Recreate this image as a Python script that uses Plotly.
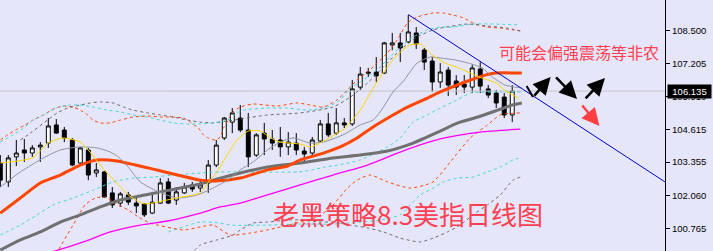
import plotly.graph_objects as go

# ---------------- candles (daily, oldest -> newest) ----------------
candle_idx = list(range(65))
opens = [103.32,102.58,103.56,103.83,103.71,103.95,104.10,104.81,104.61,104.22,
         103.32,103.83,102.93,102.97,102.15,101.75,102.07,101.75,101.72,101.36,
         101.75,102.58,101.87,102.15,102.46,102.34,102.54,103.24,104.30,104.92,
         105.08,104.61,103.63,104.49,104.26,104.22,103.95,104.10,103.79,103.71,
         104.18,104.85,104.49,104.89,104.85,106.29,106.88,106.88,106.84,107.94,
         108.02,108.06,108.41,107.74,107.31,106.49,106.96,106.53,106.41,106.29,
         107.00,106.22,106.06,105.90,105.20]
highs = [103.63,103.63,104.22,104.26,104.02,104.14,105.08,105.04,104.73,104.30,
         103.95,103.91,103.32,103.01,102.38,102.19,102.19,101.99,101.75,102.19,
         102.73,102.73,102.38,102.54,102.58,102.65,103.44,104.22,105.12,105.47,
         105.59,105.28,104.49,104.89,104.61,104.73,104.53,104.49,103.95,104.34,
         105.00,105.28,105.47,105.08,106.57,107.08,107.04,107.47,108.06,108.41,
         108.41,109.11,108.64,107.82,107.47,107.23,107.08,106.76,106.76,107.16,
         107.27,106.37,106.18,106.06,106.37]
lows = [102.38,102.38,103.20,103.36,103.56,103.36,103.91,104.46,104.14,103.20,
        103.28,102.65,102.77,101.95,101.56,101.60,101.68,101.36,101.21,101.32,
        101.72,101.72,101.68,102.11,102.19,102.19,102.15,103.16,104.22,104.49,
        104.53,103.16,103.56,103.63,103.83,103.56,103.63,103.63,103.36,103.63,
        104.14,104.34,104.42,104.69,104.77,106.18,106.69,106.49,106.80,107.74,
        107.27,108.02,107.78,106.96,106.10,106.26,105.94,105.98,106.06,106.06,
        106.06,105.86,105.47,105.08,104.92]
closes = [102.65,103.52,103.71,103.71,103.91,104.02,104.77,104.49,104.30,103.24,
          103.91,102.85,103.05,101.99,101.68,102.11,101.79,101.64,101.29,101.79,
          102.54,101.75,102.19,102.38,102.30,102.46,103.24,104.02,105.08,105.28,
          104.61,103.56,104.42,104.26,104.10,103.95,104.14,103.83,103.67,104.22,
          104.85,104.42,104.89,104.81,106.22,106.80,106.84,106.73,108.02,108.02,
          107.82,108.45,107.98,107.27,106.49,106.88,106.37,106.29,106.29,107.04,
          106.33,105.98,105.67,105.20,106.135]
last_price = 106.135

# ---------------- moving averages ----------------
ma5_x = [0,4,6,7.8,10,11,12,13,14.8,16,18,19.6,22,25,26.2,27,28.5,29.6,31,32.5,33.8,35,37.5,38.8,
         40.4,42,43,45,47,48.4,50,51.2,52.5,54,55.6,57,58.5,59.8,62,63,64.8]
ma5_y = [103.32,103.52,104.10,104.30,104.14,103.83,103.44,103.05,102.46,102.07,101.72,101.79,101.95,
         102.15,102.65,102.93,103.71,104.22,104.57,104.57,104.30,104.14,104.06,103.95,104.18,104.46,
         104.65,105.39,106.45,107.08,107.66,107.94,107.98,107.55,107.23,107.08,106.88,106.69,106.45,
         106.18,105.86]
ma10_x = [0,2.5,5.4,7.5,10,12.1,13.75,14.75,16,17.5,19.6,22.1,24.6,26.6,28.4,30,31.6,33.4,35,36.6,
          38.75,40.4,41.9,43.1,45,46.6,47.5,49.1,50.4,52.1,53.75,55,56.9,58.5,60.25,61.5,63.1,64.4,65.2]
ma10_y = [102.38,102.97,103.52,103.83,103.95,103.91,103.75,103.56,103.16,102.58,102.22,101.95,102.07,
          102.34,102.65,103.05,103.36,103.83,104.14,104.30,104.10,104.14,104.30,104.46,104.81,105.00,
          105.32,106.10,106.53,107.23,107.47,107.43,107.35,107.23,107.04,106.69,106.37,106.29,106.26]
ma20_x = [0,2.5,5,7.5,10,12.1,14.6,16.9,19,21.6,25,26.9,30,33.4,35.9,37.5,40,42.5,44.6,46.6,49.1,
          50.9,53.4,55,58.1,60.6,61.9,65.2]
ma20_y = [101.36,101.95,102.54,102.85,103.24,103.44,103.40,103.24,103.09,102.89,102.65,102.62,102.73,
          103.05,103.20,103.44,103.67,103.95,104.30,104.73,105.20,105.51,105.86,106.10,106.49,106.76,
          106.84,106.84]
ma60_x = [0,2.5,5,7.5,10,12.5,15,18.1,20,22.5,25,27.5,30,33.4,37.5,41.6,45,48.4,51.6,55,57.2,59.7,
          62.2,64,65.2]
ma60_y = [99.91,100.31,100.62,101.01,101.29,101.60,101.87,102.07,102.19,102.34,102.50,102.73,102.93,
          103.16,103.32,103.52,103.63,103.79,104.10,104.57,104.89,105.12,105.39,105.59,105.67]
ma120_x = [0,7.2,10.4,13.75,17.5,20.9,25,27.5,30,33.4,37.5,41.6,45.9,50,55,60,65]
ma120_y = [99.33,99.91,100.23,100.62,100.89,101.05,101.36,101.60,101.75,102.07,102.46,102.85,103.24,
           103.75,104.26,104.53,104.65]

# ---------------- band lines (dashed) ----------------
band_orange_up_x = [0,0.9,1.9,3.1,4.1,5.4,6.6,7.9,9.1,10,10.9,11.6,12.5,13.75,15,16.6,18.4,20,21.25,
                    22.9,23.75,24.75,25.4,26,26.9,27.5,27.9,28.5,29.1,30,31.6,34.6,37.1,38.75,40.4,
                    42.1,43.4,44.6,45.9,47.1,48.4,49.6,50.9,52.1,54.1,55.4,56.6,57.9,59.1,60.9,62.5,
                    64.1,65]
band_orange_up_y = [104.22,104.42,104.61,104.81,105.00,105.20,105.43,105.55,105.51,105.39,105.20,105.00,
                    104.89,104.89,105.00,105.12,105.16,105.12,105.12,105.08,104.92,104.69,104.42,104.30,
                    104.22,104.34,104.69,105.00,105.32,105.51,105.63,105.55,105.67,105.59,105.51,105.79,
                    106.18,106.57,106.88,107.23,107.63,108.13,108.80,109.03,109.19,109.19,109.11,109.00,
                    108.80,108.64,108.60,108.53,108.49]
band_gray_up_x = [2.5,3.75,5.9,7.1,8.4,10,11.25,12.5,14.1,15.4,16.6,18.4,20,21.6,23.4,25,26.6,28.4,
                  30,33.4,37.5,41.6,43.75,45.9,47.9,50,52.1,54.1,55,58.4,60.9,63.4,65]
band_gray_up_y = [104.22,104.49,105.00,105.28,105.47,105.59,105.67,105.71,105.67,105.51,105.39,105.28,
                  105.20,105.12,105.00,104.92,104.89,104.96,105.04,105.20,105.28,105.51,105.90,106.45,
                  107.08,107.74,108.25,108.53,108.60,108.76,108.68,108.60,108.49]
band_cyan_up_x = [0,1.6,2.9,4.1,5.9,7.25,8.75,10,11.6,13.4,15,16.6,18.4,20,21.6,23.4,25,26.6,28.4,
                  29.6,30.4,33.4,35.9,38.4,40.9,42.5,43.75,45,46.25,47.5,48.75,50,51.6,53.4,55,56.6,
                  59.1,61.6,65]
band_cyan_up_y = [104.14,104.42,104.69,105.00,105.28,105.51,105.59,105.59,105.51,105.39,105.32,105.20,
                  105.12,105.00,104.89,104.85,104.85,104.89,105.00,105.28,105.39,105.47,105.47,105.39,
                  105.51,105.79,106.26,106.49,106.76,107.08,107.47,107.86,108.25,108.53,108.64,108.64,
                  108.76,108.76,108.72]
band_cyan_mid_x = [0,2.5,4.6,6.6,9.1,11.6,14.1,16.6,19.1,21.6,25,27.5,30,37.2,39,40.6,42.2,45,48.4,
                   50,51.6,53.4,55,57.1,58.8,61.2,65]
band_cyan_mid_y = [100.50,100.89,101.29,101.68,101.95,102.26,102.58,102.73,102.77,102.85,102.93,102.97,
                   102.97,102.97,103.05,103.16,103.24,103.44,103.95,104.30,104.92,105.20,105.47,105.79,
                   106.06,106.10,106.10]
band_cyan_low_x = [21,25,27.5,29,33.4,37.5,41.6,47.5,50,51.25,52.5,54.1,55.4,57.1,59.1,60.9,62.5,64.1,65]
band_cyan_low_y = [100.62,101.01,100.97,100.89,100.89,100.93,100.93,101.09,101.29,101.68,102.07,102.34,
                   102.58,102.73,102.77,102.97,103.16,103.44,103.52]
band_orange_low_x = [6.25,7.25,9.1,10.6,11.9,13.1,14.4,16,17.25,18.75,22.9,25,26.6,28.75,31.25,33.4,
                     37.5,39.6,41.25,43.4,44.6,46.25,48.4,51.25,54.1,56.25,58.75,60.9,62.5,65]
band_orange_low_y = [99.33,99.91,100.89,101.68,101.95,101.99,101.75,101.48,101.21,100.97,100.70,100.82,
                     100.89,100.50,100.58,100.70,101.01,101.21,101.56,102.34,102.65,102.85,102.58,102.34,
                     102.58,103.36,104.30,104.81,105.20,105.28]
band_gray_low_x = [23.75,25,27.1,29.1,30,31.6,33.4,35.9,37.5,40,41.6,43.75,45.9,47.9,50,52.5,54.1,55.9,
                   57.5,59.1,60.9,62.5,64.1,65]
band_gray_low_y = [99.72,100.11,100.31,100.50,100.70,100.97,101.01,101.09,101.09,101.01,101.01,100.89,
                   100.78,100.62,100.38,100.23,100.38,100.62,100.89,101.29,101.68,102.07,102.65,102.77]

# ---------------- trend line and arrows ----------------
trend_x = [51, 83.1]
trend_y = [109.13, 102.58]
check_x = [65.8, 66.6]
check_y = [106.33, 105.90]
arrow_tail_x = [66.6, 69.3, 73.0]
arrow_tail_y = [105.90, 106.73, 105.79]
arrow_head_x = [68.8, 72.1, 75.6]
arrow_head_y = [106.69, 105.83, 106.65]
red_arrow_tail = (72.6, 105.63)
red_arrow_head = (74.9, 104.77)

tick_vals = [108.5, 107.205, 105.91, 104.615, 103.355, 102.06, 100.765]
tick_text = ["108.500", "107.205", "105.910", "104.615", "103.355", "102.060", "100.765"]

BG = "#E6E6FA"
RED_TXT = "#FF4050"

fig = go.Figure()

# current price line
fig.add_trace(go.Scatter(x=[-1, 90], y=[last_price, last_price], mode="lines",
                         line=dict(color="#C4C4C8", width=1), hoverinfo="skip"))

fig.add_trace(go.Candlestick(
    x=candle_idx, open=opens, high=highs, low=lows, close=closes,
    increasing=dict(line=dict(color="black", width=1), fillcolor="white"),
    decreasing=dict(line=dict(color="black", width=1), fillcolor="black"),
    whiskerwidth=0, hoverinfo="skip"))

def dashed(x, y, color):
    fig.add_trace(go.Scatter(x=x, y=y, mode="lines",
                             line=dict(color=color, width=1, dash="3px,3px", shape="spline", smoothing=0.6),
                             hoverinfo="skip"))

dashed(band_orange_up_x, band_orange_up_y, "#FF4500")
dashed(band_gray_up_x, band_gray_up_y, "#6A6A6A")
dashed(band_cyan_up_x, band_cyan_up_y, "#40D8D0")
dashed(band_cyan_mid_x, band_cyan_mid_y, "#40D8D0")
dashed(band_cyan_low_x, band_cyan_low_y, "#40D8D0")
dashed(band_orange_low_x, band_orange_low_y, "#FF4500")
dashed(band_gray_low_x, band_gray_low_y, "#6A6A6A")

def solid(x, y, color, w):
    fig.add_trace(go.Scatter(x=x, y=y, mode="lines",
                             line=dict(color=color, width=w, shape="spline", smoothing=0.6),
                             hoverinfo="skip"))

solid(ma120_x, ma120_y, "#FF00FF", 1.3)
solid(ma60_x, ma60_y, "#707070", 3)
solid(ma20_x, ma20_y, "#FF4500", 3)
solid(ma10_x, ma10_y, "#8A93A0", 1)
solid(ma5_x, ma5_y, "#FFD700", 1)

fig.add_trace(go.Scatter(x=trend_x, y=trend_y, mode="lines",
                         line=dict(color="#0000CD", width=1), hoverinfo="skip"))
fig.add_trace(go.Scatter(x=check_x, y=check_y, mode="lines",
                         line=dict(color="black", width=2), hoverinfo="skip"))

annotations = []
for tx, ty, hx, hy in zip(arrow_tail_x, arrow_tail_y, arrow_head_x, arrow_head_y):
    annotations.append(dict(x=hx, y=hy, ax=tx, ay=ty, xref="x", yref="y", axref="x", ayref="y",
                            text="", showarrow=True, arrowhead=2, arrowsize=1.4, arrowwidth=2.5,
                            arrowcolor="black"))
annotations.append(dict(x=red_arrow_head[0], y=red_arrow_head[1], ax=red_arrow_tail[0], ay=red_arrow_tail[1],
                        xref="x", yref="y", axref="x", ayref="y", text="", showarrow=True,
                        arrowhead=2, arrowsize=1.4, arrowwidth=2.5, arrowcolor="#FF4040"))
annotations.append(dict(x=72.3, y=107.66, xref="x", yref="y", text="可能会偏强震荡等非农",
                        showarrow=False, font=dict(family="Noto Sans CJK SC", size=16, color=RED_TXT)))
annotations.append(dict(x=51.0, y=101.36, xref="x", yref="y", text="老黑策略8.3美指日线图",
                        showarrow=False, font=dict(family="Noto Sans CJK SC", size=26, color=RED_TXT)))
annotations.append(dict(x=1, y=last_price, xref="paper", yref="y", xanchor="left", xshift=2,
                        text="106.135", showarrow=False, bgcolor="black", width=41, height=11,
                        font=dict(family="Liberation Sans", size=9.5, color="white")))

fig.update_layout(
    width=713, height=251,
    margin=dict(l=0, r=48, t=0, b=0),
    paper_bgcolor=BG, plot_bgcolor=BG,
    showlegend=False,
    annotations=annotations,
    xaxis=dict(range=[-0.04, 83.1], visible=False, rangeslider=dict(visible=False), fixedrange=True),
    yaxis=dict(range=[99.876, 109.70], side="right", showgrid=False, zeroline=False,
               showline=True, linecolor="black", linewidth=1, ticks="outside", ticklen=4,
               tickcolor="black", tickvals=tick_vals, ticktext=tick_text,
               tickfont=dict(family="Liberation Sans", size=9.5, color="black"), fixedrange=True),
)

fig.write_html("out.html", config={"displayModeBar": False})
